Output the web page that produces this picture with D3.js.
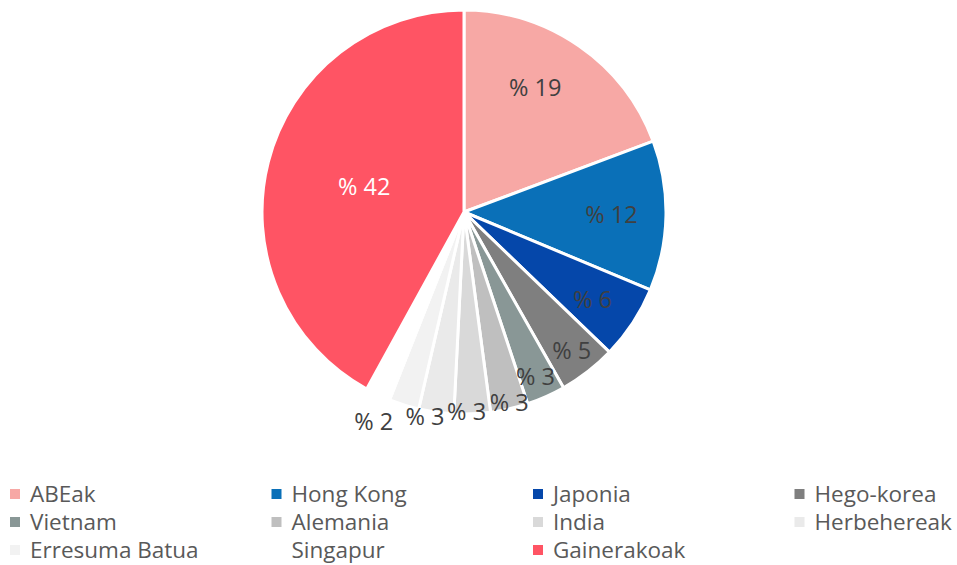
<!DOCTYPE html>
<html>
<head>
<meta charset="utf-8">
<script src="https://cdn.jsdelivr.net/npm/d3@7"></script>
<style>
  body { margin: 0; background: #fff; }
  svg { display: block; font-family: "Open Sans", "Noto Sans", sans-serif; }
</style>
</head>
<body>
<script>
const categories = ['ABEak', 'Hong Kong', 'Japonia', 'Hego-korea', 'Vietnam', 'Alemania',
  'India', 'Herbehereak', 'Erresuma Batua', 'Singapur', 'Gainerakoak'];
const values = [19.3, 12.0, 5.9, 4.6, 3.1, 3.0, 2.9, 2.8, 2.4, 2.0, 42.0];
const labels = ['% 19', '% 12', '% 6', '% 5', '% 3', '% 3', '% 3', '% 3', '% 2', '', '% 42'];
const colors = ['#F7A8A5', '#0A70B8', '#0547AA', '#7F7F7F', '#899796', '#BFBFBF',
  '#D9D9D9', '#EAEAEA', '#F2F2F2', '#FFFFFF', '#FF5464'];

const width = 957;
const height = 565;
const cx = 464, cy = 212, radius = 202;

// label placement (excel "best fit" look): distance as fraction of radius, angle nudge in degrees
const labelR = [0.71, 0.73, 0.77, 0.87, 0.89, 0.97, 0.99, 1.03, 1.13, 1, 0.51];
const labelA = [-5, 0, 1, 0, 0.5, -0.4, 1.6, 2.9, 6, 0, 0];

const data = categories.map((c, i) => ({
  name: c, value: values[i], label: labels[i], color: colors[i], lr: labelR[i], la: labelA[i]
}));

const svg = d3.select('body').append('svg')
  .attr('width', width)
  .attr('height', height);

const pie = d3.pie().sort(null).value(d => d.value);
const arcs = pie(data);

const arc = d3.arc().innerRadius(0).outerRadius(radius);

const g = svg.append('g').attr('transform', `translate(${cx},${cy})`);

g.selectAll('path')
  .data(arcs)
  .join('path')
  .attr('d', arc)
  .attr('fill', d => d.data.color)
  .attr('stroke', '#fff')
  .attr('stroke-width', 3)
  .attr('stroke-linejoin', 'round');

g.selectAll('text')
  .data(arcs.filter(d => d.data.label))
  .join('text')
  .attr('transform', d => {
    const a = (d.startAngle + d.endAngle) / 2 + d.data.la * Math.PI / 180;
    const r = radius * d.data.lr;
    return `translate(${Math.sin(a) * r},${-Math.cos(a) * r})`;
  })
  .attr('text-anchor', 'middle')
  .attr('dy', '0.35em')
  .attr('font-size', 23.5)
  .attr('fill', d => d.data.name === 'Gainerakoak' ? '#fff' : '#404040')
  .text(d => d.data.label);

// legend, 4 columns
const cols = 4;
const colW = 261.5;
const legend = svg.append('g').attr('transform', 'translate(10,494)');

const item = legend.selectAll('g')
  .data(data)
  .join('g')
  .attr('transform', (d, i) => `translate(${(i % cols) * colW},${Math.floor(i / cols) * 28})`);

item.append('rect')
  .attr('x', 0)
  .attr('y', -5)
  .attr('width', 10)
  .attr('height', 10)
  .attr('fill', d => d.color);

item.append('text')
  .attr('x', 20)
  .attr('dy', '0.35em')
  .attr('font-size', 22.5)
  .attr('fill', '#595959')
  .text(d => d.name);
</script>
</body>
</html>
